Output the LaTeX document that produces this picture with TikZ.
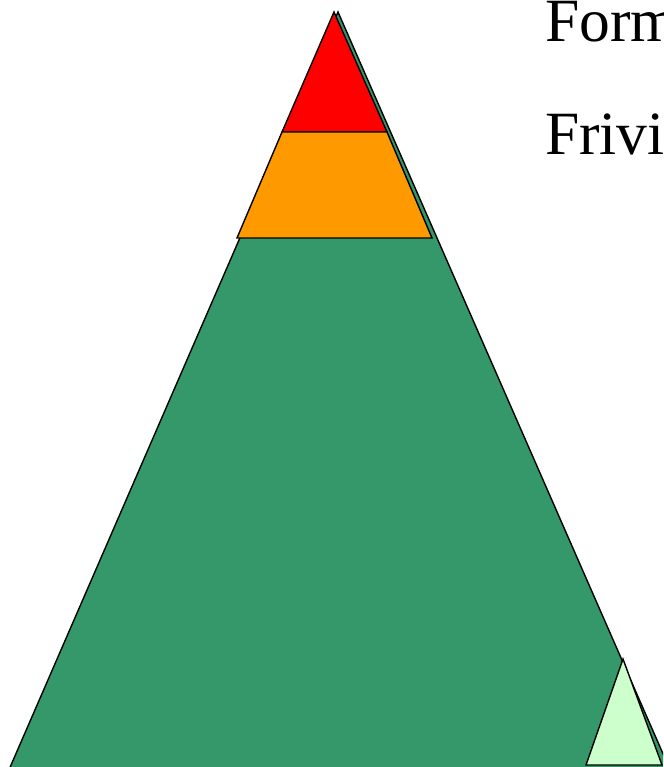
\documentclass[tikz,border=0pt]{standalone}
\usepackage{fontspec}
\setmainfont{Liberation Serif}
\definecolor{pgreen}{RGB}{53,152,106}
\definecolor{porange}{RGB}{255,153,0}
\definecolor{pred}{RGB}{255,0,0}
\definecolor{plight}{RGB}{204,255,204}
\tikzset{layer/.style={draw=black,line width=1.4pt,line join=miter},
  lbl/.style={anchor=base west,inner sep=0pt,font=\fontsize{61.5}{64}\selectfont}}
\begin{document}
\begin{tikzpicture}[x=1pt,y=-1pt]
\useasboundingbox (0,0) rectangle (663,767);
\clip (0,0) rectangle (663,767);
\fill[white] (0,0) rectangle (663,767);
\draw[layer,fill=pgreen] (338,12) -- (8,772) -- (671,772) -- cycle;
\draw[layer,fill=pred] (334,12) -- (282,132) -- (387,132) -- cycle;
\draw[layer,fill=porange] (282,132) -- (237,238) -- (432,238) -- (387,132) -- cycle;
\draw[layer,fill=plight] (623,659) -- (586,765) -- (662,765) -- cycle;
\node[lbl] (t1) at (545,42) {Form};
\node[lbl] (t2) at (545,155) {Frivi};
\end{tikzpicture}
\end{document}
